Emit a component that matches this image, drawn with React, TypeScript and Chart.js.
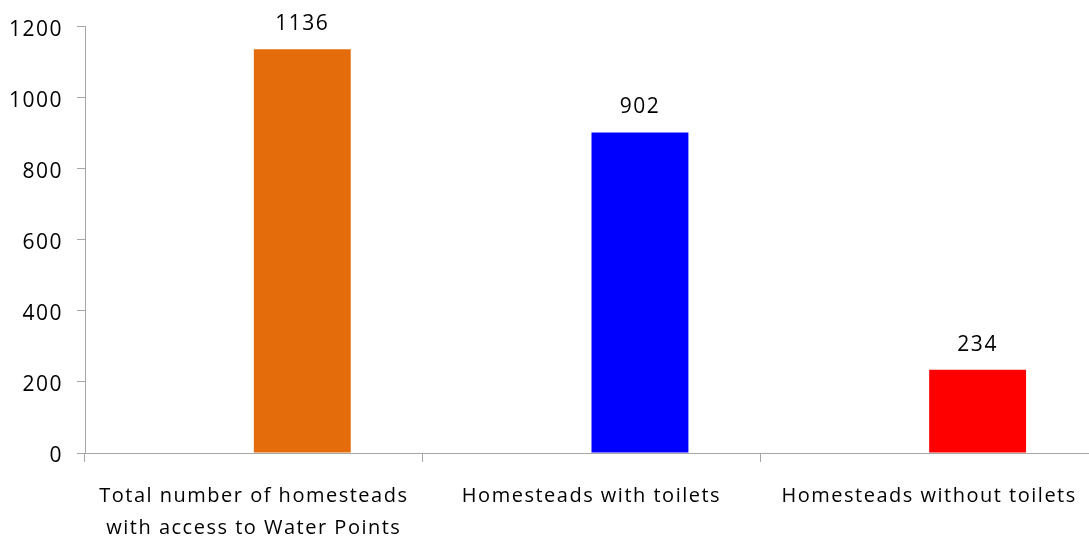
import React, { useEffect, useRef } from "react";
import { Chart, registerables } from "chart.js";

Chart.register(...registerables);

const categories: string[][] = [
  ["Total number of homesteads", "with access to Water Points"],
  ["Homesteads with toilets"],
  ["Homesteads without toilets"],
];
const values: number[] = [1136, 902, 234];
const emptySeries: (number | null)[] = [null, null, null];
const barColors: string[] = ["#E46C0A", "#0000FF", "#FF0000"];
const yTicks: number[] = [0, 200, 400, 600, 800, 1000, 1200];

const FONT = "'Open Sans', 'Liberation Sans', sans-serif";
const AXIS_GREY = "#A6A6A6";
const SPACING = "1.5px";

const spacingPlugin = {
  id: "spacing",
  beforeLayout(chart: any) {
    chart.ctx.letterSpacing = SPACING;
  },
  beforeDraw(chart: any) {
    chart.ctx.letterSpacing = SPACING;
  },
};

const dataLabelPlugin = {
  id: "dataLabels",
  afterDatasetsDraw(chart: any) {
    const ctx = chart.ctx;
    const meta = chart.getDatasetMeta(1);
    ctx.save();
    ctx.letterSpacing = SPACING;
    ctx.font = `21px ${FONT}`;
    ctx.fillStyle = "#000000";
    ctx.textAlign = "center";
    ctx.textBaseline = "middle";
    meta.data.forEach((bar: any, i: number) => {
      const v = chart.data.datasets[1].data[i];
      ctx.fillText(String(v), bar.x, bar.y - 25);
    });
    ctx.restore();
  },
};

export default function App() {
  const ref = useRef<HTMLCanvasElement | null>(null);
  useEffect(() => {
    if (!ref.current) return;
    const chart = new Chart(ref.current, {
      type: "bar",
      data: {
        labels: categories as any,
        datasets: [
          {
            data: emptySeries,
            backgroundColor: "#FFFFFF",
            categoryPercentage: 0.574,
            barPercentage: 1,
          },
          {
            data: values,
            backgroundColor: barColors,
            categoryPercentage: 0.574,
            barPercentage: 1,
          },
        ],
      },
      options: {
        responsive: false,
        animation: false,
        layout: { padding: { top: 25, right: 2, left: 0, bottom: 0 } },
        plugins: {
          legend: { display: false },
          tooltip: { enabled: false },
        },
        scales: {
          x: {
            grid: {
              display: true,
              drawOnChartArea: false,
              drawTicks: true,
              tickLength: 9,
              color: AXIS_GREY,
              offset: true,
            },
            border: { display: true, color: AXIS_GREY, width: 1 },
            ticks: {
              color: "#000000",
              font: { family: FONT, size: 20, lineHeight: 1.6 },
              padding: 18,
              maxRotation: 0,
              autoSkip: false,
            },
            afterFit: (s: any) => {
              s.height = 84;
            },
          },
          y: {
            min: 0,
            max: 1200,
            afterBuildTicks: (s: any) => {
              s.ticks = yTicks.map((v) => ({ value: v }));
            },
            grid: {
              display: true,
              drawOnChartArea: false,
              drawTicks: true,
              tickLength: 8,
              color: AXIS_GREY,
            },
            border: { display: true, color: AXIS_GREY, width: 1 },
            ticks: {
              color: "#000000",
              font: { family: FONT, size: 21 },
              padding: 14,
              labelOffset: 3,
              callback: (v: any) => String(v),
            },
            afterFit: (s: any) => {
              s.width = 85;
            },
          },
        },
      },
      plugins: [spacingPlugin, dataLabelPlugin],
    });
    return () => chart.destroy();
  }, []);
  return (
    <div style={{ position: "absolute", left: 0, top: 0, width: 1089, height: 537, overflow: "hidden", background: "#fff" }}>
      <canvas ref={ref} width={1100} height={537} style={{ display: "block" }} />
    </div>
  );
}
